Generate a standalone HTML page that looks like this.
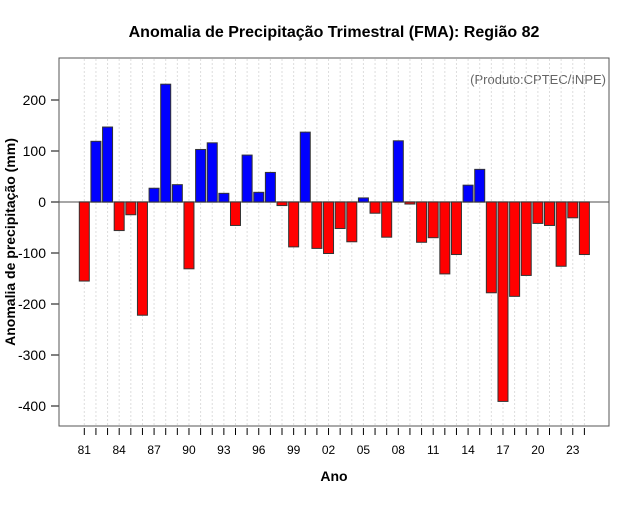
<!DOCTYPE html>
<html><head><meta charset="utf-8"><style>
body{margin:0;background:#fff;font-family:"Liberation Sans",sans-serif}
</style></head><body>
<svg id="chart" width="640" height="500" xmlns="http://www.w3.org/2000/svg">
<rect width="640" height="500" fill="#fff"/>
<text x="334" y="37" text-anchor="middle" font-size="16" font-weight="bold" font-family="Liberation Sans, sans-serif">Anomalia de Precipitação Trimestral (FMA): Região 82</text>
<text x="606" y="84" text-anchor="end" font-size="13" fill="#666" font-family="Liberation Sans, sans-serif">(Produto:CPTEC/INPE)</text>
<text x="334" y="481" text-anchor="middle" font-size="14" font-weight="bold" font-family="Liberation Sans, sans-serif">Ano</text>
<text transform="translate(15,242) rotate(-90)" text-anchor="middle" font-size="14" font-weight="bold" font-family="Liberation Sans, sans-serif">Anomalia de precipitação (mm)</text>
<g id="grid"></g>
<g id="bars"></g>
<g id="axes"></g>
<rect x="59" y="58" width="550" height="368" fill="none" stroke="#555" stroke-width="1"/>
</svg>
<script>
const years = [1981,1982,1983,1984,1985,1986,1987,1988,1989,1990,1991,1992,1993,1994,1995,1996,1997,1998,1999,2000,2001,2002,2003,2004,2005,2006,2007,2008,2009,2010,2011,2012,2013,2014,2015,2016,2017,2018,2019,2020,2021,2022,2023,2024];
const anomalies = [-155,119,147,-56,-25,-222,27,231,34,-131,103,116,17,-46,92,19,58,-7,-88,137,-91,-101,-52,-78,8,-22,-69,120,-4,-79,-70,-141,-103,33,64,-178,-391,-185,-144,-42,-46,-126,-31,-103];
const yTicks = [-400,-300,-200,-100,0,100,200];
const xTickLabels = ["81","84","87","90","93","96","99","02","05","08","11","14","17","20","23"];

const NS="http://www.w3.org/2000/svg";
const y = v => 202 - v*0.51;
const xc = i => 84.3 + i*11.63;
function mk(tag, attrs, parent){const e=document.createElementNS(NS,tag);for(const k in attrs)e.setAttribute(k,attrs[k]);parent.appendChild(e);return e;}
const grid=document.getElementById('grid'), bars=document.getElementById('bars'), axes=document.getElementById('axes');

years.forEach((yr,i)=>{
  const g=mk('line',{x1:xc(i),x2:xc(i),y1:59,y2:425,stroke:'#ddd','stroke-dasharray':'2,2','stroke-width':1},grid);
  
  
});
const zl=mk('line',{x1:59,x2:609,y1:y(0),y2:y(0),stroke:'#888','stroke-width':1.5},grid);



anomalies.forEach((v,i)=>{
  const top=Math.min(y(0),y(v)), h=Math.abs(y(v)-y(0));
  const r=mk('rect',{x:xc(i)-5,y:top,width:10,height:Math.max(h,1),fill:v>=0?'#0000ff':'#ff0000',stroke:'#333','stroke-width':1},bars);
  
  
});

yTicks.forEach(t=>{
  const l=mk('line',{x1:51,x2:59,y1:y(t),y2:y(t),stroke:'#000'},axes);
  
  
  const tx=mk('text',{x:46,y:y(t)+5,'text-anchor':'end','font-size':14,'font-family':'Liberation Sans, sans-serif'},axes);
  tx.textContent=t;
  
  
});

years.forEach((yr,i)=>{
  const l=mk('line',{x1:xc(i),x2:xc(i),y1:428,y2:435,stroke:'#000'},axes);
  
  
});
xTickLabels.forEach((s,j)=>{
  const tx=mk('text',{x:xc(j*3),y:454,'text-anchor':'middle','font-size':12,'font-family':'Liberation Sans, sans-serif'},axes);
  tx.textContent=s;
  
  
});
</script>
</body></html>
